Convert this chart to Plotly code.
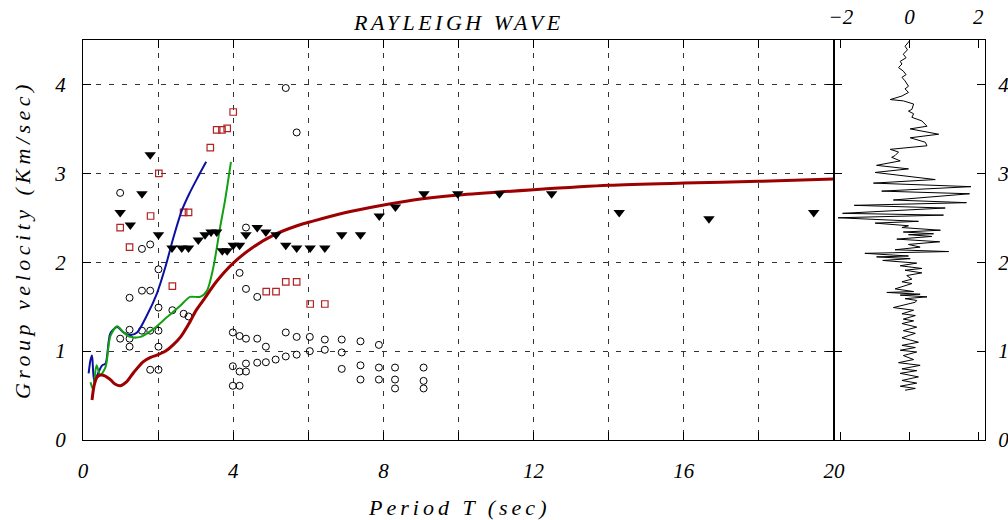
import plotly.graph_objects as go

# ---------------- data ----------------
tri_T = [0.99, 1.26, 1.57, 1.79, 2.01, 2.37, 2.63, 2.81, 3.07, 3.25, 3.41, 3.56, 3.71, 3.84,
         4.00, 4.17, 4.34, 4.64, 4.87, 5.14, 5.40, 5.69, 6.05, 6.44, 6.89, 7.39, 7.89, 8.32,
         9.08, 9.98, 11.09, 12.48, 14.28, 16.67, 19.46]
tri_V = [2.56, 2.42, 2.77, 3.21, 2.31, 2.16, 2.16, 2.16, 2.25, 2.31, 2.34, 2.34, 2.13, 2.13,
         2.19, 2.19, 2.31, 2.39, 2.34, 2.31, 2.19, 2.16, 2.16, 2.16, 2.31, 2.31, 2.52, 2.62,
         2.77, 2.77, 2.77, 2.77, 2.56, 2.49, 2.56]

sq_T = [0.99, 1.24, 1.80, 2.02, 2.38, 2.68, 2.81, 3.39, 3.56, 3.70, 3.84, 4.00, 4.88, 5.14,
        5.40, 5.69, 6.05, 6.44]
sq_V = [2.39, 2.17, 2.52, 3.00, 1.73, 2.56, 2.56, 3.29, 3.49, 3.49, 3.505, 3.69, 1.67, 1.67,
        1.78, 1.78, 1.53, 1.53]

circ_T = [0.99, 5.40, 5.69, 4.34, 1.57, 1.79, 2.01, 4.17, 4.34, 4.64, 1.24, 1.57, 1.79, 2.01,
          2.38, 2.68, 2.81, 1.24, 0.99, 1.24, 1.24, 1.57, 1.79, 2.01, 2.01, 1.79, 2.01, 3.99,
          4.17, 4.34, 4.64, 4.87, 5.40, 5.69, 6.04, 6.44, 6.89, 7.39, 7.88, 3.99, 4.17, 4.34,
          4.34, 4.64, 4.87, 5.13, 5.40, 5.69, 6.04, 6.44, 6.89, 3.99, 4.17, 6.89, 7.39, 7.88,
          8.31, 9.07, 7.39, 7.88, 8.31, 9.07, 8.31, 9.07]
circ_V = [2.78, 3.96, 3.46, 2.39, 2.15, 2.20, 1.92, 1.88, 1.70, 1.61, 1.60, 1.68, 1.68, 1.49,
          1.46, 1.42, 1.39, 1.24, 1.14, 1.14, 1.05, 1.23, 1.23, 1.23, 1.05, 0.79, 0.79, 1.21,
          1.17, 1.14, 1.14, 1.05, 1.21, 1.16, 1.16, 1.13, 1.13, 1.11, 1.07, 0.83, 0.77, 0.77,
          0.86, 0.87, 0.875, 0.905, 0.94, 0.96, 1.00, 1.015, 0.985, 0.61, 0.61, 0.80, 0.84, 0.815,
          0.815, 0.815, 0.68, 0.68, 0.68, 0.665, 0.58, 0.58]

blue_T = [0.15, 0.20, 0.24, 0.30, 0.40, 0.51, 0.60, 0.73, 0.91, 1.08, 1.26, 1.44, 1.70, 1.97,
          2.19, 2.41, 2.63, 2.83, 3.05, 3.28]
blue_V = [0.75, 0.90, 0.95, 0.66, 0.75, 0.84, 0.86, 1.20, 1.27, 1.21, 1.18, 1.21, 1.40, 1.65,
          1.94, 2.28, 2.58, 2.77, 2.95, 3.13]

green_T = [0.20, 0.27, 0.36, 0.46, 0.60, 0.73, 0.91, 1.08, 1.26, 1.53, 1.88, 2.23, 2.59, 2.85,
           3.12, 3.30, 3.47, 3.65, 3.78, 3.94]
green_V = [0.65, 0.57, 0.84, 0.73, 0.82, 1.17, 1.28, 1.21, 1.16, 1.16, 1.25, 1.38, 1.51, 1.61,
           1.61, 1.68, 1.94, 2.39, 2.69, 3.13]

red_T = [0.24, 0.30, 0.38, 0.50, 0.70, 0.85, 1.00, 1.15, 1.35, 1.60, 1.80, 2.00, 2.20, 2.40,
         2.60, 2.85, 3.00, 3.20, 3.55, 4.00, 4.50, 5.10, 5.70, 6.10, 7.00, 7.90, 8.80, 10.0,
         12.0, 14.0, 16.0, 18.0, 20.0]
red_V = [0.45, 0.62, 0.71, 0.73, 0.69, 0.63, 0.61, 0.65, 0.76, 0.88, 0.93, 0.96, 1.00, 1.07,
         1.16, 1.33, 1.45, 1.57, 1.78, 1.99, 2.16, 2.31, 2.41, 2.46, 2.56, 2.635, 2.70, 2.755,
         2.815, 2.865, 2.89, 2.91, 2.935]

seis_amp = [0.0, -0.13, -0.06, -0.18, -0.10, -0.27, -0.22, -0.32, -0.18, -0.10, -0.22, -0.13,
            -0.03, -0.13, -0.03, -0.22, -0.56, -0.18, 0.12, 0.07, -0.03, 0.12, 0.07, 0.36, 0.51,
            0.02, 0.85, 0.02, 0.46, 0.51, -0.56, -0.32, -0.42, -0.52, -0.27, -0.96, -0.03,
            -1.0, 0.75, -1.05, 1.79, -0.81, 1.75, -0.47, 1.66, -1.61, 1.04, -1.95, 0.99, -2.08,
            0.26, -1.0, -0.03, -0.22, 0.90, -0.18, 0.70, -0.03, 0.65, -0.37, 0.88, -0.03, 0.31,
            -0.42, 1.14, -1.30, -0.03, -0.96, 0.02, -0.78, 0.21, -0.27, 0.36, -0.13, 0.36, -0.08,
            0.07, -0.22, 0.07, -0.42, 0.12, -0.66, 0.31, -0.27, 0.51, -0.13, 0.21,
            0.17, -0.47, 0.12, -0.22, 0.17, -0.18, 0.12, -0.22, 0.21, -0.18, 0.17, -0.22, 0.26,
            -0.22, 0.17, -0.27, 0.21, -0.18, 0.12, -0.32, 0.31, -0.22, 0.21, -0.27, 0.26, -0.22,
            0.21, -0.27, 0.17, -0.13]
seis_V = [4.49, 4.43, 4.39, 4.34, 4.30, 4.26, 4.23, 4.19, 4.15, 4.11, 4.08, 4.04,
          3.98, 3.95, 3.91, 3.87, 3.83, 3.815, 3.78, 3.72, 3.70, 3.67, 3.63, 3.59, 3.53,
          3.50, 3.44, 3.40, 3.35, 3.31, 3.27, 3.24, 3.20, 3.18, 3.14, 3.09, 3.05,
          3.01, 2.93, 2.89, 2.85, 2.80, 2.77, 2.70, 2.67, 2.64, 2.61, 2.55, 2.53, 2.50,
          2.46, 2.44, 2.41, 2.39, 2.36, 2.34, 2.32, 2.31, 2.29, 2.26, 2.23, 2.20, 2.17,
          2.14, 2.12, 2.10, 2.07, 2.06, 2.04, 2.02, 1.99, 1.96, 1.93, 1.91, 1.88, 1.85,
          1.81, 1.78, 1.76, 1.70, 1.67, 1.66, 1.64, 1.63, 1.61, 1.59, 1.57,
          1.55, 1.49, 1.46, 1.42, 1.40, 1.36, 1.34, 1.31, 1.27, 1.23, 1.20, 1.15, 1.10,
          1.065, 1.04, 1.01, 0.99, 0.95, 0.905, 0.87, 0.84, 0.80, 0.78, 0.75, 0.71, 0.67,
          0.64, 0.605, 0.58, 0.56]

x_tickvals = [0, 2, 4, 6, 8, 10, 12, 14, 16, 18, 20]
x_ticktext = ["0", "", "4", "", "8", "", "12", "", "16", "", "20"]
y_tickvals = [0, 1, 2, 3, 4]
y_ticktext = ["0", "1", "2", "3", "4"]
amp_tickvals = [-2, 0, 2]
amp_ticktext = ["\u22122", "0", "2"]

title_text = "RAYLEIGH WAVE"
xlabel_text = "Period T (sec)"
ylabel_text = "Group velocity (Km/sec)"

# ---------------- figure ----------------
FONT = "Liberation Serif"
fnt = dict(family=FONT, size=21, color="black", style="italic")


def spaced(t, px):
    return '<span style="letter-spacing:%gpx">%s</span>' % (px, t)


fig = go.Figure()

fig.add_trace(go.Scatter(x=circ_T, y=circ_V, mode="markers", xaxis="x", yaxis="y",
                         marker=dict(symbol="circle-open", size=7, color="black",
                                     line=dict(width=1, color="black"))))
fig.add_trace(go.Scatter(x=sq_T, y=sq_V, mode="markers", xaxis="x", yaxis="y",
                         marker=dict(symbol="square-open", size=6.5, color="#b22222",
                                     line=dict(width=1.2, color="#b22222"))))
fig.add_trace(go.Scatter(x=blue_T, y=blue_V, mode="lines", xaxis="x", yaxis="y",
                         line=dict(color="#0a10a0", width=2, shape="spline", smoothing=0.8)))
fig.add_trace(go.Scatter(x=green_T, y=green_V, mode="lines", xaxis="x", yaxis="y",
                         line=dict(color="#10a010", width=2, shape="spline", smoothing=0.8)))
fig.add_trace(go.Scatter(x=red_T, y=red_V, mode="lines", xaxis="x", yaxis="y",
                         line=dict(color="#9c0000", width=3, shape="spline", smoothing=0.8)))
fig.add_trace(go.Scatter(x=tri_T, y=tri_V, mode="markers", xaxis="x", yaxis="y",
                         marker=dict(symbol="triangle-down", size=10, color="black",
                                     line=dict(width=0))))
fig.add_trace(go.Scatter(x=seis_amp, y=seis_V, mode="lines", xaxis="x2", yaxis="y2",
                         line=dict(color="black", width=1)))

split = (834 - 83) / 902.0

axis_common = dict(showline=True, linecolor="black", linewidth=1.3, ticks="inside",
                   ticklen=8, tickcolor="black", tickwidth=1, zeroline=False,
                   tickfont=fnt, mirror="ticks", automargin=False)
grid = dict(showgrid=True, gridcolor="#333333", gridwidth=1, griddash="5px,8px")

fig.update_layout(
    width=1008, height=520,
    margin=dict(l=83, r=23, t=40, b=80),
    paper_bgcolor="white", plot_bgcolor="white",
    showlegend=False,
    xaxis=dict(domain=[0, split], range=[0, 20], tickmode="array",
               tickvals=x_tickvals, ticktext=x_ticktext, ticklabelstandoff=12,
               anchor="y", **axis_common, **grid),
    yaxis=dict(range=[0, 4.5], tickmode="array", tickvals=y_tickvals, ticktext=y_ticktext,
               ticklabelstandoff=12, anchor="x", **axis_common, **grid),
    xaxis2=dict(domain=[split, 1], range=[-2.2, 2.2], tickmode="array",
                tickvals=amp_tickvals, ticktext=amp_ticktext, side="top",
                ticklabelstandoff=6, anchor="y2", showgrid=False, **axis_common),
    yaxis2=dict(range=[0, 4.5], tickmode="array", tickvals=y_tickvals, ticktext=y_ticktext,
                side="right", ticklabelstandoff=8, anchor="x2", showgrid=False,
                **axis_common),
    annotations=[
        dict(text=spaced(title_text, 3.5), xref="paper", yref="paper", x=split / 2, y=1.045,
             xanchor="center", yanchor="middle", showarrow=False,
             font=dict(family=FONT, size=22, color="black", style="italic")),
        dict(text=spaced(xlabel_text, 4), xref="paper", yref="paper", x=split / 2, y=-0.1675,
             xanchor="center", yanchor="middle", showarrow=False,
             font=dict(family=FONT, size=22, color="black", style="italic")),
        dict(text=spaced(ylabel_text, 4.5), xref="paper", yref="paper", x=-0.0676, y=0.5,
             xanchor="center", yanchor="middle", showarrow=False, textangle=-90,
             font=dict(family=FONT, size=22, color="black", style="italic")),
    ],
)

fig.write_html("out.html",
               config={"displayModeBar": False},
               post_script="document.body.style.margin='0px';"
                           "document.body.style.overflow='hidden';")
